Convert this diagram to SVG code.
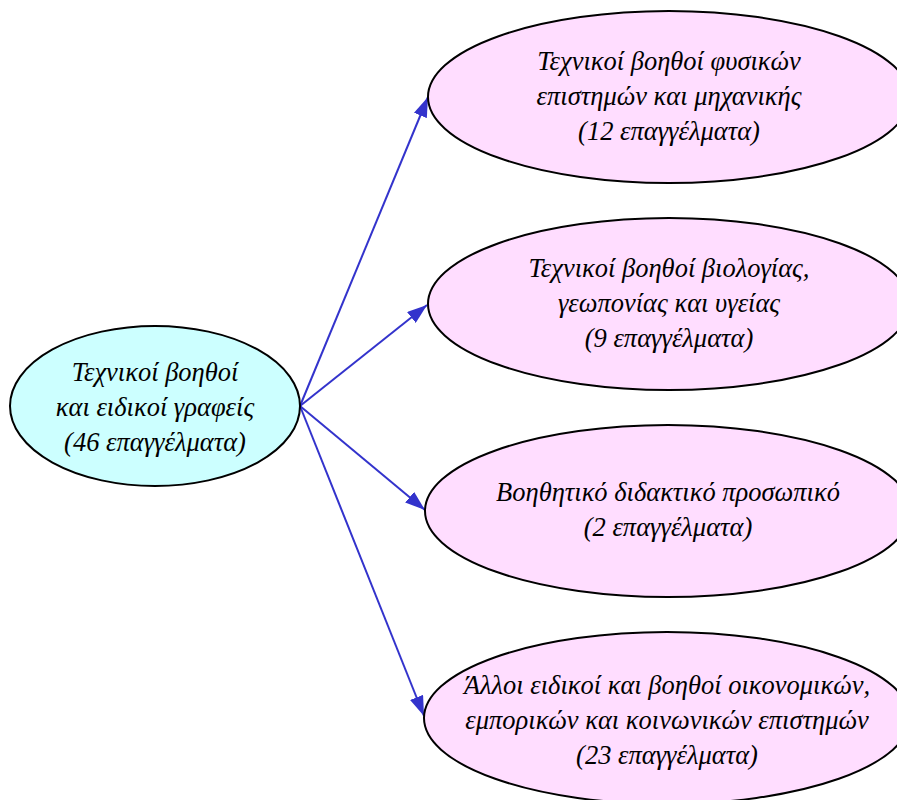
<svg xmlns="http://www.w3.org/2000/svg" width="897" height="800" viewBox="0 0 897 800">
<style>
.node ellipse{stroke:#000;stroke-width:2}
.src ellipse{fill:#ccffff}
.dst ellipse{fill:#ffddff}
text{font-family:"Liberation Serif","DejaVu Serif",serif;font-style:italic;font-size:26.5px;fill:#000;text-anchor:middle}
.edges line{stroke:#3333cc;stroke-width:2;marker-end:url(#ah)}
</style>
<defs>
<marker id="ah" viewBox="0 0 20 14" refX="20" refY="7" markerWidth="20" markerHeight="14" markerUnits="userSpaceOnUse" orient="auto">
<path d="M0,0 L20,7 L0,14 z" fill="#3333cc"/>
</marker>
</defs>
<rect width="897" height="800" fill="#fff"/>
<g class="edges">
<line x1="300" y1="406" x2="428" y2="97"/>
<line x1="300" y1="406" x2="427" y2="305"/>
<line x1="300" y1="406" x2="425" y2="510"/>
<line x1="300" y1="406" x2="424" y2="716"/>
</g>
<g id="n0" class="node src">
<ellipse cx="155" cy="406" rx="145" ry="80"/>
<text x="155" y="381">Τεχνικοί βοηθοί</text>
<text x="155" y="416">και ειδικοί γραφείς</text>
<text x="155" y="451">(46 επαγγέλματα)</text>
</g>
<g id="n1" class="node dst">
<ellipse cx="669" cy="97" rx="241" ry="86"/>
<text x="669" y="70">Τεχνικοί βοηθοί φυσικών</text>
<text x="669" y="105">επιστημών και μηχανικής</text>
<text x="669" y="140">(12 επαγγέλματα)</text>
</g>
<g id="n2" class="node dst">
<ellipse cx="669" cy="304" rx="241" ry="86"/>
<text x="669" y="277">Τεχνικοί βοηθοί βιολογίας,</text>
<text x="669" y="312">γεωπονίας και υγείας</text>
<text x="669" y="347">(9 επαγγέλματα)</text>
</g>
<g id="n3" class="node dst">
<ellipse cx="668" cy="511" rx="243" ry="86"/>
<text x="668" y="501">Βοηθητικό διδακτικό προσωπικό</text>
<text x="668" y="536">(2 επαγγέλματα)</text>
</g>
<g id="n4" class="node dst">
<ellipse cx="667" cy="718" rx="243" ry="86"/>
<text x="667" y="694">Άλλοι ειδικοί και βοηθοί οικονομικών,</text>
<text x="667" y="729">εμπορικών και κοινωνικών επιστημών</text>
<text x="667" y="764">(23 επαγγέλματα)</text>
</g>
</svg>
